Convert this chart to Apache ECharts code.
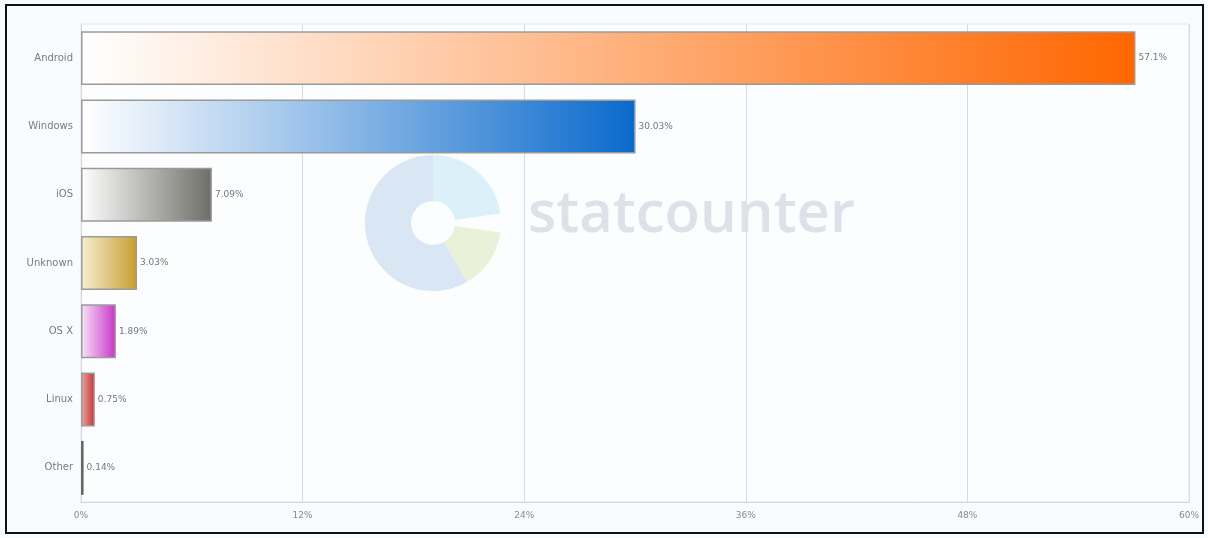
<!DOCTYPE html>
<html>
<head>
<meta charset="utf-8">
<script src="https://cdn.jsdelivr.net/npm/echarts@6/dist/echarts.min.js"></script>
<style>
html,body{margin:0;padding:0;background:#ffffff;}
#chart{width:1208px;height:538px;}
</style>
</head>
<body>
<div id="chart"></div>
<script>
const categories = ['Android', 'Windows', 'iOS', 'Unknown', 'OS X', 'Linux', 'Other'];
const shares = [57.1, 30.03, 7.09, 3.03, 1.89, 0.75, 0.14];
const xTicks = ['0%', '12%', '24%', '36%', '48%', '60%'];
const barColors = [
  ['#ffffff', '#ff6600'],
  ['#ffffff', '#0a6acc'],
  ['#ffffff', '#6e6e68'],
  ['#f7efd2', '#c89f2e'],
  ['#fae4fa', '#c833c8'],
  ['#f4a4a4', '#be3434'],
  ['#a0a0a0', '#444444']
];

const chart = echarts.init(document.getElementById('chart'));
const data = shares.map((v, i) => ({
  value: v,
  itemStyle: {
    color: new echarts.graphic.LinearGradient(0, 0, 1, 0, [
      {offset: 0, color: barColors[i][0]},
      {offset: 1, color: barColors[i][1]}
    ]),
    borderColor: i === 6 ? '#666666' : '#9a9a9a',
    borderWidth: 1.5
  }
}));

chart.setOption({
  backgroundColor: '#f9fbfd',
  animation: false,
  grid: {left: 81, right: 19, top: 24, bottom: 36, show: true, borderColor: '#e4e6e8', borderWidth: 1, backgroundColor: '#fcfdfe'},
  xAxis: {
    type: 'value', min: 0, max: 60, interval: 12,
    axisLine: {show: true, lineStyle: {color: '#d4d6d8'}},
    axisTick: {show: false},
    splitLine: {show: true, lineStyle: {color: '#d8dadc', width: 1}},
    axisLabel: {
      color: '#8a8a8a', fontSize: 9, fontFamily: 'DejaVu Sans', margin: 9,
      formatter: function (v) { return xTicks[Math.round(v / 12)]; }
    }
  },
  yAxis: {
    type: 'category', data: categories, inverse: true,
    axisLine: {show: true, lineStyle: {color: '#d4d6d8'}},
    axisTick: {show: false},
    axisLabel: {color: '#7a7a7a', fontSize: 10, fontFamily: 'DejaVu Sans', margin: 8}
  },
  graphic: [
    {type: 'sector', z: 1, shape: {cx: 433, cy: 223, r: 68, r0: 22, startAngle: Math.PI * 60 / 180, endAngle: Math.PI * 270 / 180, clockwise: true}, style: {fill: '#d9e7f4'}},
    {type: 'sector', z: 1, shape: {cx: 433, cy: 223, r: 68, r0: 22, startAngle: Math.PI * 270 / 180, endAngle: Math.PI * 352 / 180, clockwise: true}, style: {fill: '#dcf0f9'}},
    {type: 'sector', z: 1, shape: {cx: 433, cy: 223, r: 68, r0: 22, startAngle: Math.PI * 8 / 180, endAngle: Math.PI * 60 / 180, clockwise: true}, style: {fill: '#e9f2d9'}},
    {type: 'text', z: 1, left: 528, top: 186, style: {text: 'statcounter', fill: '#dfe1e8', font: '600 58px "Open Sans"'}},
    {type: 'rect', z: 100, shape: {x: 6, y: 5, width: 1197, height: 528}, style: {fill: null, stroke: '#111111', lineWidth: 2}}
  ],
  series: [{
    type: 'bar', data: data, barCategoryGap: '21%', z: 3,
    label: {
      show: true, position: 'right', distance: 3, color: '#777', fontSize: 9, fontFamily: 'DejaVu Sans',
      formatter: function (p) { return p.value + '%'; }
    }
  }]
});
</script>
</body>
</html>
